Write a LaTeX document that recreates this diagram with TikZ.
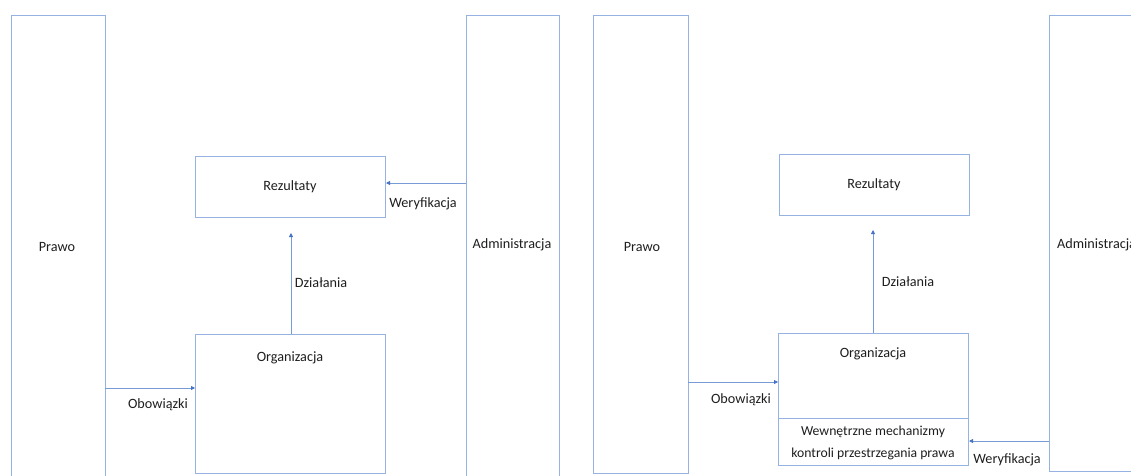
\documentclass[tikz,border=0pt]{standalone}
\usepackage{fontspec}
\setmainfont{Carlito}
\usetikzlibrary{arrows.meta}
\definecolor{boxline}{RGB}{150,178,226}
\definecolor{arrline}{RGB}{120,155,215}
\definecolor{tipblue}{RGB}{68,114,196}
\definecolor{txt}{RGB}{30,30,30}
\tikzset{
  panel/.style={draw=boxline, line width=1pt},
  arr/.style={draw=arrline, line width=0.8pt, -{Triangle[length=4pt,width=4pt,fill=tipblue,color=tipblue]}},
  lbl/.style={text=txt, font=\fontsize{14.2}{16}\selectfont, inner sep=0pt},
  pt/.style={inner sep=0pt, minimum size=0pt}
}
\begin{document}
\begin{tikzpicture}[x=1pt,y=-1pt]
\useasboundingbox (0,0) rectangle (1131,475);
\clip (0,0) rectangle (1131,475);

% ---------- left panel ----------
\draw[panel] (11,15) rectangle (105,490);
\draw[panel] (466,15) rectangle (559,490);
\draw[panel] (195,156) rectangle (385,217);
\draw[panel] (195,334) rectangle (385,473);
\node[lbl] (prawoL) at (57,247) {Prawo};
\node[lbl] (adminL) at (512,245) {Administracja};
\node[lbl] (rezL) at (290,187) {Rezultaty};
\node[lbl] (orgL) at (290,358) {Organizacja};

\coordinate (obStartL) at (105,388);
\coordinate (obEndL) at (195,388);
\draw[arr] (obStartL) -- (obEndL);
\node[lbl] (obL) at (158,405) {Obowiązki};

\coordinate (dzStartL) at (291,334);
\coordinate (dzEndL) at (291,233);
\draw[arr] (dzStartL) -- (dzEndL);
\node[lbl] (dzL) at (321,283) {Działania};

\coordinate (weStartL) at (466,183);
\coordinate (weEndL) at (386,183);
\draw[arr] (weStartL) -- (weEndL);
\node[lbl] (weL) at (423,204) {Weryfikacja};

% ---------- right panel ----------
\draw[panel] (593,15) rectangle (688,473);
\draw[panel] (1049,15) rectangle (1150,471);
\draw[panel] (779,154) rectangle (969,215);
\draw[panel] (778,333) rectangle (968,418);
\draw[panel] (778,418) rectangle (968,465);
\node[lbl] (prawoR) at (642,247) {Prawo};
\node[lbl, anchor=west] (adminR) at (1057,245) {Administracja};
\node[lbl] (rezR) at (874,185) {Rezultaty};
\node[lbl] (orgR) at (873,354) {Organizacja};
\node[lbl, align=center, font=\fontsize{13.7}{22}\selectfont] (mechR) at (873,443)
  {Wewnętrzne mechanizmy\\kontroli przestrzegania prawa};

\coordinate (obStartR) at (688,382);
\coordinate (obEndR) at (778,382);
\draw[arr] (obStartR) -- (obEndR);
\node[lbl] (obR) at (741,400) {Obowiązki};

\coordinate (dzStartR) at (873,333);
\coordinate (dzEndR) at (873,230);
\draw[arr] (dzStartR) -- (dzEndR);
\node[lbl] (dzR) at (908,282) {Działania};

\coordinate (weStartR) at (1049,441);
\coordinate (weEndR) at (969,441);
\draw[arr] (weStartR) -- (weEndR);
\node[lbl] (weR) at (1007,460) {Weryfikacja};
\end{tikzpicture}
\end{document}
